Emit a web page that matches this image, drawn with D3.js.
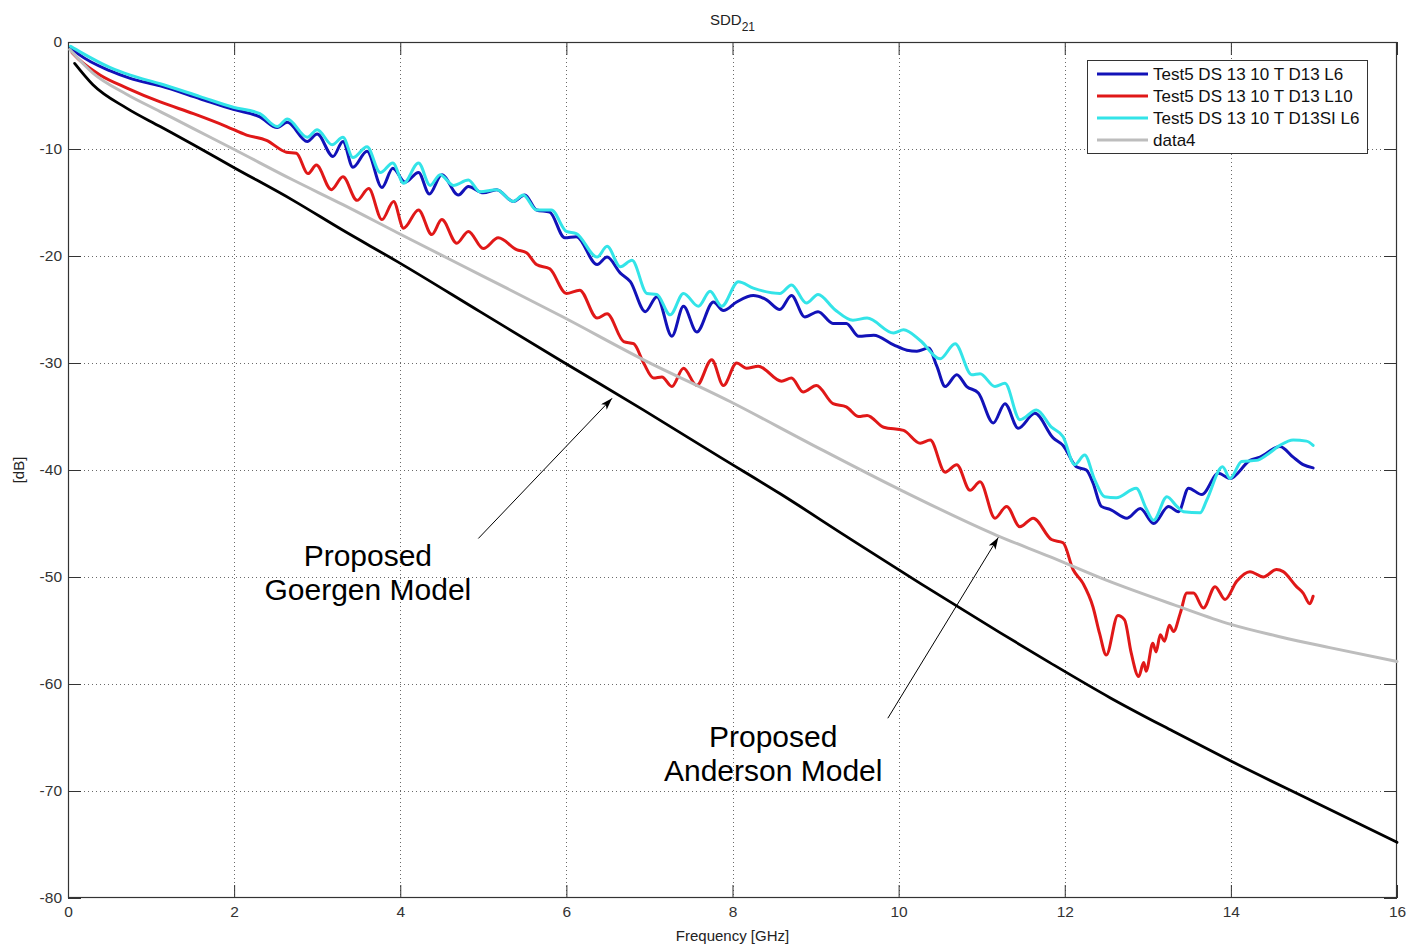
<!DOCTYPE html>
<html><head><meta charset="utf-8">
<script src="https://cdn.jsdelivr.net/npm/d3@7"></script>
<style>body{margin:0;background:#fff;} svg{display:block;font-family:"Liberation Sans",Arial,sans-serif;}</style>
</head><body><svg id="c" width="1410" height="946"></svg>
<script>
// ---------- data ----------
const xTicks = [0, 2, 4, 6, 8, 10, 12, 14, 16];
const yTicks = [0, -10, -20, -30, -40, -50, -60, -70, -80];
const legendNames = ["Test5 DS 13 10 T D13 L6", "Test5 DS 13 10 T D13 L10", "Test5 DS 13 10 T D13SI L6", "data4"];

// [frequency GHz, dB]
const blueL6 = [[0.03,-0.5],[0.14,-1.2],[0.51,-2.7],[0.75,-3.4],[1.11,-4.1],[1.59,-5.3],[1.99,-6.3],[2.31,-7.0],[2.52,-8.0],[2.64,-7.5],[2.88,-9.3],[3.0,-8.6],[3.19,-10.7],[3.31,-9.3],[3.43,-11.7],[3.60,-10.2],[3.78,-13.6],[3.91,-11.8],[4.06,-13.1],[4.22,-12.2],[4.35,-14.2],[4.50,-12.4],[4.70,-14.3],[4.82,-13.5],[5.00,-14.1],[5.16,-13.8],[5.36,-14.9],[5.50,-14.3],[5.64,-15.7],[5.80,-15.9],[5.98,-18.3],[6.12,-18.2],[6.37,-20.8],[6.49,-20.1],[6.65,-21.6],[6.77,-22.4],[6.95,-25.2],[7.09,-23.8],[7.27,-27.5],[7.41,-24.7],[7.57,-27.1],[7.77,-24.3],[7.89,-25.1],[8.05,-24.3],[8.25,-23.7],[8.41,-24.1],[8.57,-25.0],[8.71,-23.7],[8.87,-25.7],[9.03,-25.2],[9.21,-26.3],[9.37,-26.3],[9.52,-27.5],[9.70,-27.4],[9.94,-28.3],[10.10,-28.8],[10.22,-28.9],[10.36,-28.6],[10.46,-30.3],[10.56,-32.2],[10.70,-31.1],[10.82,-32.2],[10.96,-32.8],[11.14,-35.6],[11.28,-33.8],[11.44,-36.1],[11.64,-34.7],[11.86,-37.0],[11.98,-37.7],[12.14,-39.7],[12.26,-40.0],[12.34,-41.2],[12.44,-43.4],[12.55,-43.7],[12.75,-44.5],[12.91,-43.6],[13.07,-45.0],[13.25,-43.4],[13.37,-43.9],[13.49,-41.7],[13.65,-42.3],[13.85,-40.3],[13.99,-40.8],[14.23,-39.1],[14.35,-38.8],[14.59,-37.8],[14.75,-38.8],[14.87,-39.5],[14.99,-39.8]];

const redL10 = [[0.05,-1.0],[0.14,-1.7],[0.39,-3.1],[0.71,-4.3],[1.11,-5.6],[1.51,-6.7],[1.91,-7.9],[2.15,-8.7],[2.39,-9.2],[2.63,-10.3],[2.75,-10.4],[2.89,-12.3],[2.99,-11.5],[3.17,-13.8],[3.31,-12.6],[3.48,-14.8],[3.62,-13.7],[3.78,-16.6],[3.92,-14.9],[4.04,-17.4],[4.22,-15.7],[4.38,-18.0],[4.50,-16.6],[4.68,-18.8],[4.82,-17.7],[5.00,-19.3],[5.18,-18.3],[5.40,-19.4],[5.52,-19.7],[5.64,-20.8],[5.80,-21.2],[6.00,-23.5],[6.16,-23.2],[6.37,-25.8],[6.49,-25.4],[6.69,-28.0],[6.81,-28.2],[6.93,-30.0],[7.05,-31.4],[7.15,-31.3],[7.27,-32.2],[7.41,-30.5],[7.57,-32.1],[7.75,-29.7],[7.89,-32.1],[8.05,-30.0],[8.17,-30.5],[8.31,-30.3],[8.59,-31.7],[8.71,-31.4],[8.85,-32.7],[9.01,-32.1],[9.21,-33.8],[9.37,-34.1],[9.52,-35.0],[9.62,-34.9],[9.82,-36.0],[10.06,-36.3],[10.26,-37.5],[10.38,-37.2],[10.56,-40.2],[10.70,-39.5],[10.86,-41.9],[10.98,-41.1],[11.16,-44.5],[11.30,-43.4],[11.46,-45.3],[11.62,-44.5],[11.84,-46.5],[11.98,-46.8],[12.10,-49.3],[12.22,-50.6],[12.34,-52.8],[12.42,-55.3],[12.50,-57.3],[12.64,-53.6],[12.72,-54.0],[12.80,-57.1],[12.89,-59.3],[12.95,-58.0],[12.98,-58.8],[13.06,-56.2],[13.10,-57.0],[13.15,-55.4],[13.20,-56.0],[13.26,-54.5],[13.31,-55.1],[13.39,-53.4],[13.47,-51.5],[13.55,-51.5],[13.67,-52.9],[13.81,-50.9],[13.93,-52.1],[14.07,-50.4],[14.23,-49.5],[14.39,-50.0],[14.55,-49.3],[14.63,-49.5],[14.79,-50.9],[14.87,-51.5],[14.95,-52.5],[14.99,-51.8]];

const cyanSIL6 = [[0.03,-0.4],[0.14,-0.9],[0.51,-2.4],[0.75,-3.1],[1.11,-3.9],[1.59,-5.1],[1.99,-6.1],[2.31,-6.7],[2.52,-7.9],[2.64,-7.2],[2.88,-8.9],[3.0,-8.2],[3.18,-9.6],[3.31,-8.9],[3.43,-10.8],[3.60,-9.8],[3.76,-12.2],[3.91,-11.3],[4.04,-13.2],[4.22,-11.3],[4.36,-13.4],[4.48,-12.4],[4.64,-13.4],[4.82,-12.9],[4.96,-14.0],[5.16,-13.8],[5.36,-14.9],[5.48,-14.3],[5.64,-15.7],[5.82,-15.7],[6.0,-17.7],[6.12,-17.9],[6.37,-20.1],[6.49,-19.1],[6.65,-21.0],[6.79,-20.4],[6.97,-23.5],[7.09,-23.6],[7.25,-25.5],[7.41,-23.5],[7.59,-24.7],[7.73,-23.3],[7.87,-24.7],[8.07,-22.4],[8.25,-23.0],[8.57,-23.5],[8.71,-22.7],[8.89,-24.4],[9.03,-23.6],[9.23,-25.0],[9.45,-26.0],[9.62,-25.8],[9.94,-27.2],[10.06,-26.9],[10.26,-27.9],[10.50,-29.6],[10.68,-28.2],[10.88,-31.1],[10.98,-31.0],[11.16,-32.2],[11.28,-31.9],[11.46,-35.3],[11.66,-34.4],[11.84,-36.0],[11.98,-36.9],[12.12,-39.5],[12.24,-38.6],[12.36,-40.9],[12.48,-42.5],[12.62,-42.6],[12.86,-41.7],[12.98,-43.6],[13.07,-44.7],[13.23,-42.5],[13.35,-43.4],[13.43,-43.9],[13.63,-44.0],[13.71,-42.8],[13.90,-39.7],[13.99,-40.8],[14.13,-39.2],[14.31,-39.1],[14.43,-38.6],[14.59,-37.7],[14.75,-37.2],[14.91,-37.3],[14.99,-37.7]];

const grayData4 = [[0.02,-0.7],[0.3,-2.9],[0.71,-4.9],[1.11,-6.5],[1.51,-8.1],[1.99,-10.0],[2.71,-12.9],[3.31,-15.2],[3.96,-17.8],[5.0,-21.9],[5.96,-25.7],[6.93,-29.7],[7.97,-33.6],[8.95,-37.6],[9.98,-41.7],[11.18,-46.1],[11.82,-48.1],[12.5,-50.3],[13.35,-52.7],[13.99,-54.4],[14.6,-55.6],[15.19,-56.6],[16.0,-57.9]];

const blackModel = [[0.08,-2.0],[0.30,-4.0],[0.71,-6.2],[1.11,-7.9],[1.51,-9.6],[1.99,-11.7],[2.71,-14.8],[3.31,-17.6],[3.96,-20.5],[4.96,-25.2],[5.96,-29.9],[6.93,-34.4],[7.85,-38.8],[8.57,-42.2],[9.37,-46.2],[10.26,-50.6],[11.22,-55.2],[11.82,-58.0],[12.55,-61.3],[13.3,-64.4],[14.0,-67.2],[15.0,-71.0],[16.0,-74.8]];

// annotations: text lines, text anchor point (f, dB), arrow tail and head (f, dB)
const annoGoergen = {lines: ["Proposed", "Goergen Model"], at: [3.61, -49.0], tail: [4.94, -46.4], head: [6.55, -33.3]};
const annoAnderson = {lines: ["Proposed", "Anderson Model"], at: [8.49, -65.9], tail: [9.87, -63.2], head: [11.20, -46.3]};

// ---------- drawing ----------
const svg = d3.select("#c");
const L = 68, R = 1397, T = 42, B = 898;
const x = d3.scaleLinear().domain([0, 16]).range([L, R]);
const y = d3.scaleLinear().domain([-80, 0]).range([B, T]);

svg.append("rect").attr("width", 1410).attr("height", 946).attr("fill", "#fff");

// grid
const grid = svg.append("g").attr("stroke", "#6a6a6a").attr("stroke-width", 1).attr("stroke-dasharray", "1,3");
grid.selectAll(".gx").data(xTicks.slice(1, -1)).join("line")
  .attr("x1", d => Math.round(x(d)) + 0.5).attr("x2", d => Math.round(x(d)) + 0.5).attr("y1", T).attr("y2", B);
grid.selectAll(".gy").data(yTicks.slice(1, -1)).join("line")
  .attr("y1", d => Math.round(y(d)) + 0.5).attr("y2", d => Math.round(y(d)) + 0.5).attr("x1", L).attr("x2", R);

// axes
const fmt = d => String(d);
const tk = 13;
const ax = [
  svg.append("g").attr("transform", `translate(0,${B})`).call(d3.axisBottom(x).tickValues(xTicks).tickSizeInner(-tk).tickSizeOuter(0).tickPadding(8).tickFormat(fmt)),
  svg.append("g").attr("transform", `translate(0,${T})`).call(d3.axisTop(x).tickValues(xTicks).tickSizeInner(-tk).tickSizeOuter(0).tickFormat("")),
  svg.append("g").attr("transform", `translate(${L},0)`).call(d3.axisLeft(y).tickValues(yTicks).tickSizeInner(-tk).tickSizeOuter(0).tickPadding(6).tickFormat(fmt)),
  svg.append("g").attr("transform", `translate(${R},0)`).call(d3.axisRight(y).tickValues(yTicks).tickSizeInner(-tk).tickSizeOuter(0).tickFormat(""))
];
ax.forEach(g => {
  g.select(".domain").remove();
  g.selectAll("line").attr("stroke", "#333");
  g.selectAll("text").attr("fill", "#333").style("font-size", "15.5px").style("font-family", '"Liberation Sans",Arial,sans-serif');
});
svg.append("rect").attr("x", L + 0.5).attr("y", T + 0.5).attr("width", R - L - 1).attr("height", B - T - 1)
  .attr("fill", "none").attr("stroke", "#333").attr("stroke-width", 1.2);

// curves
const line = d3.line().x(d => x(d[0])).y(d => y(d[1])).curve(d3.curveMonotoneX);
const series = [
  {data: blueL6, color: "#1212b8", w: 3},
  {data: redL10, color: "#e01818", w: 3},
  {data: cyanSIL6, color: "#33e4e8", w: 3},
  {data: grayData4, color: "#bdbdbd", w: 3},
  {data: blackModel, color: "#000", w: 2.8}
];
svg.append("g").selectAll("path").data(series).join("path")
  .attr("d", d => line(d.data)).attr("fill", "none")
  .attr("stroke", d => d.color).attr("stroke-width", d => d.w)
  .attr("stroke-linejoin", "round").attr("stroke-linecap", "round");

// annotations
svg.append("defs").append("marker").attr("id", "ah").attr("viewBox", "0 0 12 8")
  .attr("refX", 12).attr("refY", 4).attr("markerWidth", 12).attr("markerHeight", 8)
  .attr("markerUnits", "userSpaceOnUse").attr("orient", "auto")
  .append("path").attr("d", "M0,0 L12,4 L0,8 L3,4 Z").attr("fill", "#000");
[annoGoergen, annoAnderson].forEach(a => {
  svg.append("line").attr("x1", x(a.tail[0])).attr("y1", y(a.tail[1]))
    .attr("x2", x(a.head[0])).attr("y2", y(a.head[1]))
    .attr("stroke", "#000").attr("stroke-width", 1).attr("marker-end", "url(#ah)");
  const t = svg.append("text").attr("x", x(a.at[0])).attr("y", y(a.at[1]))
    .attr("text-anchor", "middle").style("font-size", "30px").attr("fill", "#000");
  a.lines.forEach((s, i) => t.append("tspan").attr("x", x(a.at[0])).attr("dy", i ? 34 : 0).text(s));
});

// legend
const lg = svg.append("g");
lg.append("rect").attr("x", 1087.5).attr("y", 60.5).attr("width", 280).attr("height", 93)
  .attr("fill", "#fff").attr("stroke", "#333").attr("stroke-width", 1);
const lgItems = lg.selectAll("g.it").data(series.slice(0, 4)).join("g")
  .attr("transform", (d, i) => `translate(0,${74 + i * 22})`);
lgItems.append("line").attr("x1", 1097).attr("x2", 1148).attr("stroke", d => d.color).attr("stroke-width", 3);
lgItems.append("text").attr("x", 1153).attr("dy", "0.36em").style("font-size", "17px").attr("fill", "#111")
  .text((d, i) => legendNames[i]);

// title and axis labels
const title = svg.append("text").attr("x", (L + R) / 2).attr("y", 25).attr("text-anchor", "middle")
  .style("font-size", "15px").attr("fill", "#222");
title.append("tspan").text("SDD");
title.append("tspan").attr("dy", 6).style("font-size", "12px").text("21");
svg.append("text").attr("x", (L + R) / 2).attr("y", 941).attr("text-anchor", "middle")
  .style("font-size", "15px").attr("fill", "#222").text("Frequency [GHz]");
svg.append("text").attr("transform", `translate(24,${(T + B) / 2}) rotate(-90)`).attr("text-anchor", "middle")
  .style("font-size", "15px").attr("fill", "#222").text("[dB]");
</script></body></html>
